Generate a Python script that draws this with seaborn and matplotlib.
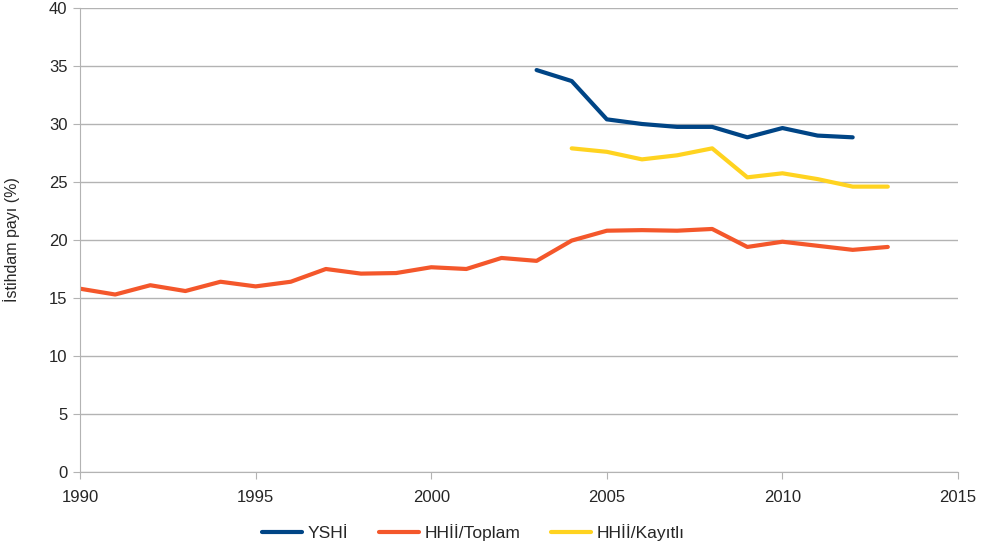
import matplotlib
matplotlib.use("Agg")
import matplotlib.pyplot as plt
import numpy as np
import pandas as pd
import seaborn as sns

years_total = list(range(1990, 2014))
hhii_toplam = [15.8, 15.3, 16.1, 15.6, 16.4, 16.0, 16.4, 17.5, 17.1, 17.15, 17.65, 17.5,
               18.45, 18.2, 19.95, 20.8, 20.85, 20.8, 20.95, 19.4, 19.85, 19.5, 19.15, 19.4]

years_yshi = list(range(2003, 2013))
yshi = [34.65, 33.7, 30.4, 30.0, 29.75, 29.75, 28.85, 29.65, 29.0, 28.85]

years_kayitli = list(range(2004, 2014))
hhii_kayitli = [27.9, 27.6, 26.95, 27.3, 27.9, 25.4, 25.75, 25.25, 24.6, 24.6]

SERIES = ["YSHİ", "HHİİ/Toplam", "HHİİ/Kayıtlı"]
COLORS = ["#004586", "#f4572b", "#ffd320"]

frame = pd.concat([
    pd.DataFrame({"Yıl": years_yshi, "Pay": yshi, "Seri": SERIES[0]}),
    pd.DataFrame({"Yıl": years_total, "Pay": hhii_toplam, "Seri": SERIES[1]}),
    pd.DataFrame({"Yıl": years_kayitli, "Pay": hhii_kayitli, "Seri": SERIES[2]}),
])

sns.set_style("white")
plt.rcParams["font.family"] = ["Liberation Sans", "DejaVu Sans"]

fig = plt.figure(figsize=(9.93, 5.51), dpi=100)
ax = fig.add_axes([0.0806, 0.1434, 0.8842, 0.8421])

sns.lineplot(data=frame, x="Yıl", y="Pay", hue="Seri", hue_order=SERIES,
             palette=COLORS, linewidth=3, ax=ax, legend=True)

ax.set_xlim(1990, 2015)
ax.set_ylim(0, 40)
ax.set_xticks(np.arange(1990, 2016, 5))
ax.set_yticks(np.arange(0, 41, 5))
ax.yaxis.grid(True, color="#b3b3b3", linewidth=1)
ax.set_axisbelow(True)
for side in ["top", "right"]:
    ax.spines[side].set_visible(False)
for side in ["left", "bottom"]:
    ax.spines[side].set_color("#b3b3b3")
ax.tick_params(axis="both", direction="out", length=5, color="#b3b3b3",
               labelsize=12, left=True, bottom=True)
ax.tick_params(axis="x", pad=8)
ax.tick_params(axis="y", pad=4)
ax.set_xlabel("")
ax.set_ylabel("İstihdam payı (%)", fontsize=11.5)
ax.yaxis.set_label_coords(-0.068, 0.5)

handles, labels = ax.get_legend_handles_labels()
ax.legend(handles, labels, loc="center", bbox_to_anchor=(0.448, -0.1305),
          ncol=3, frameon=False, fontsize=12.5, handlelength=2.3,
          handletextpad=0.3, columnspacing=1.8)

fig.savefig("out.png", dpi=100)
